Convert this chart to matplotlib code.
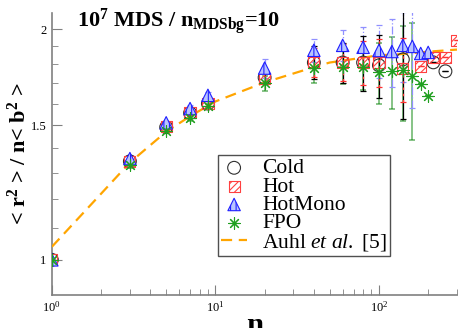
import matplotlib
matplotlib.use('Agg')
import matplotlib.pyplot as plt
from matplotlib.ticker import FixedLocator, NullFormatter, LogLocator

plt.rcParams['font.family'] = 'Liberation Serif'
plt.rcParams['mathtext.fontset'] = 'custom'
plt.rcParams['mathtext.rm'] = 'Liberation Serif'
plt.rcParams['mathtext.it'] = 'Liberation Serif:italic'
plt.rcParams['mathtext.bf'] = 'Liberation Serif:bold'
plt.rcParams['hatch.linewidth'] = 0.8

# data
cold_n = [1, 3, 5, 7, 9, 20, 40, 60, 80, 100, 140, 215, 255]
cold_v = [1.0, 1.345, 1.49, 1.555, 1.60, 1.73, 1.81, 1.81, 1.81, 1.795, 1.827, 1.811, 1.763]
cold_err = [0, 0.01, 0.01, 0.01, 0.01, 0.03, 0.09, 0.11, 0.15, 0.17, 0.30, 0, 0]

hot_n = [1, 3, 5, 7, 9, 20, 40, 60, 80, 100, 140, 180, 215, 255, 300]
hot_v = [1.0, 1.345, 1.493, 1.557, 1.60, 1.725, 1.811, 1.811, 1.811, 1.811, 1.779, 1.789, 1.838, 1.838, 1.935]
hot_err = [0, 0.01, 0.01, 0.01, 0.01, 0.03, 0.08, 0.10, 0.12, 0.13, 0.17, 0, 0, 0, 0]

mono_n = [1, 3, 5, 7, 9, 20, 40, 60, 80, 100, 120, 140, 160, 180, 200]
mono_v = [1.0, 1.356, 1.51, 1.576, 1.64, 1.78, 1.878, 1.906, 1.895, 1.877, 1.871, 1.906, 1.900, 1.860, 1.866]
mono_err = [0, 0.01, 0.01, 0.015, 0.015, 0.05, 0.065, 0.09, 0.12, 0.15, 0.19, 0.2, 0.32, 0, 0]

fpo_n = [1, 3, 5, 7, 9, 20, 40, 60, 80, 100, 120, 140, 160, 180, 200]
fpo_v = [1.0, 1.33, 1.475, 1.53, 1.59, 1.70, 1.78, 1.785, 1.785, 1.758, 1.763, 1.768, 1.736, 1.699, 1.635]
fpo_err = [0, 0.01, 0.01, 0.01, 0.01, 0.04, 0.08, 0.09, 0.12, 0.16, 0.19, 0.25, 0.30, 0, 0]

auhl_n = [1, 2, 3, 5, 7, 10, 20, 40, 50, 100, 130, 200, 300]
auhl_v = [1.04, 1.22, 1.34, 1.47, 1.54, 1.61, 1.705, 1.785, 1.81, 1.85, 1.855, 1.87, 1.882]

fig = plt.figure(figsize=(4.63, 3.28), dpi=100)
ax = fig.add_axes([0.112, 0.101, 0.875, 0.859])

def bars(n, v, err, color, ls, lw=1.0, alpha=1.0):
    eb = ax.errorbar(n, v, yerr=err, fmt='none', ecolor=color, elinewidth=lw,
                     capsize=2.5, capthick=lw, alpha=alpha, zorder=2)
    eb[2][0].set_linestyle(ls)

bars(fpo_n, fpo_v, fpo_err, '#008000', '-', 1.1, 0.6)
bars(mono_n, mono_v, mono_err, '#9090ff', '-.', 0.9)
bars(cold_n, cold_v, cold_err, 'black', '-', 0.9)
bars(hot_n, hot_v, hot_err, '#ff3030', (0, (2, 3)), 0.9)

ax.plot(auhl_n, auhl_v, color='orange', lw=1.6, dashes=(5, 3), zorder=3,
        label='Auhl $\\mathit{et\\ al.}$ [5]')

ax.scatter(cold_n, cold_v, s=85, marker='o', facecolors='none', edgecolors='#303030',
           linewidths=0.8, zorder=4, label='Cold')
ax.scatter(hot_n, hot_v, s=65, marker='s', facecolors='none', edgecolors='#ff4040',
           hatch='/////', linewidths=0.8, zorder=4, label='Hot')
ax.scatter(mono_n, mono_v, s=80, marker='^', facecolors='#b8c4ff', edgecolors='#2020ff',
           hatch='|||', linewidths=0.8, zorder=5, label='HotMono')
ax.scatter(fpo_n, fpo_v, s=70, marker=(8, 2, 0), color='#20a020',
           linewidths=0.8, zorder=5, label='FPO')

ax.set_xscale('log')
ax.set_yscale('log')
ax.set_xlim(1, 300)
ax.set_ylim(0.9, 2.1)

ax.yaxis.set_major_locator(FixedLocator([1, 1.5, 2]))
ax.yaxis.set_minor_locator(FixedLocator([1.1, 1.2, 1.3, 1.4, 1.6, 1.7, 1.8, 1.9]))
ax.set_yticklabels(['1', '1.5', '2'])
ax.yaxis.set_minor_formatter(NullFormatter())
ax.xaxis.set_major_locator(LogLocator(base=10, numticks=5))
ax.xaxis.set_minor_locator(LogLocator(base=10, subs=range(2, 10), numticks=10))
ax.xaxis.set_minor_formatter(NullFormatter())

for s in ['top', 'right']:
    ax.spines[s].set_visible(False)
for s in ['left', 'bottom']:
    ax.spines[s].set_color('#808080')
    ax.spines[s].set_linewidth(1.2)
ax.tick_params(which='both', direction='in', color='#808080', labelsize=9, pad=4)
ax.tick_params(which='major', length=7)
ax.tick_params(which='minor', length=4)

ax.set_xlabel('n', fontsize=22, fontweight='bold', labelpad=-2)
ax.set_ylabel('< r$^{\\mathbf{2}}$ > / n< b$^{\\mathbf{2}}$ >', fontsize=16, fontweight='bold')
ax.yaxis.set_label_coords(-0.053, 0.5)

ax.text(0.062, 0.952, '10$^{\\mathbf{7}}$ MDS / n$_{\\mathbf{MDSbg}}$=10', transform=ax.transAxes,
        fontsize=16, fontweight='bold', va='baseline', ha='left')

h, l = ax.get_legend_handles_labels()
order = [1, 2, 3, 4, 0]
leg = ax.legend([h[i] for i in order], [l[i] for i in order], loc='lower left',
                bbox_to_anchor=(0.41, 0.138), fontsize=15.5, labelspacing=-0.08,
                handlelength=1.2, handletextpad=0.7, borderpad=0.15, borderaxespad=0,
                fancybox=False, framealpha=1, edgecolor='#505050')
leg.get_frame().set_linewidth(1.0)

fig.savefig('out.png', dpi=100)
